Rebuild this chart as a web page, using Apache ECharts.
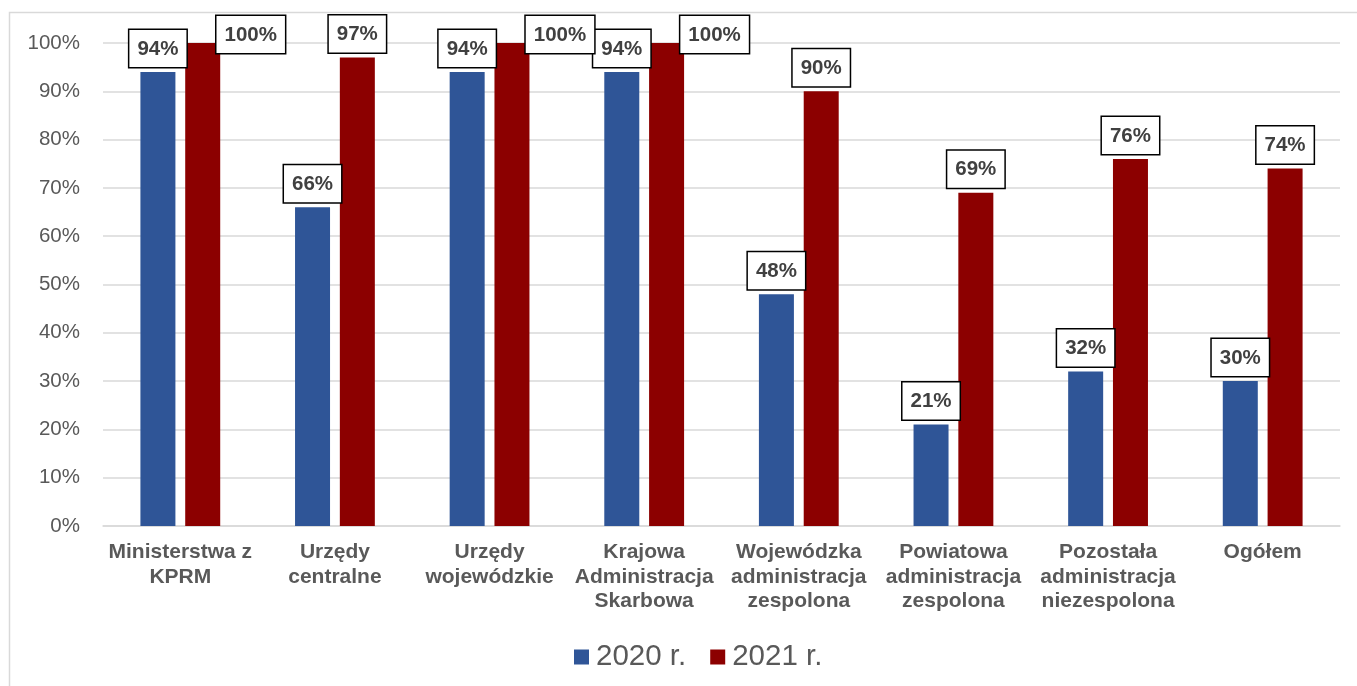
<!DOCTYPE html>
<html>
<head>
<meta charset="utf-8">
<script src="https://cdn.jsdelivr.net/npm/echarts@6/dist/echarts.min.js"></script>
<style>
  html, body { margin: 0; padding: 0; background: #ffffff; }
  #chart { width: 1357px; height: 686px; }
</style>
</head>
<body>
<div id="chart"></div>
<script>
// Categories of public administration units
const categories = [
  'Ministerstwa z\nKPRM',
  'Urzędy\ncentralne',
  'Urzędy\nwojewódzkie',
  'Krajowa\nAdministracja\nSkarbowa',
  'Wojewódzka\nadministracja\nzespolona',
  'Powiatowa\nadministracja\nzespolona',
  'Pozostała\nadministracja\nniezespolona',
  'Ogółem'
];

// Shares (%) per year
const values2020 = [94, 66, 94, 94, 48, 21, 32, 30];
const values2021 = [100, 97, 100, 100, 90, 69, 76, 74];

const seriesNames = ['2020 r.', '2021 r.'];
const yTicks = [0, 10, 20, 30, 40, 50, 60, 70, 80, 90, 100];

const TEXT = '#595959';
const FONT = '"Liberation Sans", Arial, sans-serif';

const boxLabel = {
  show: true,
  position: 'top',
  distance: 5,
  formatter: p => p.value + '%',
  color: '#404040',
  fontFamily: FONT,
  fontWeight: 'bold',
  fontSize: 20.5,
  lineHeight: 22,
  backgroundColor: '#ffffff',
  borderColor: '#000000',
  borderWidth: 1.5,
  padding: [8, 8, 7, 8]
};

// Labels at the very top are nudged right/down so they stay inside the frame
function toItems(values) {
  return values.map(v => v >= 100
    ? { value: v, label: { offset: [48, 15] } }
    : { value: v });
}

const chart = echarts.init(document.getElementById('chart'), null, { renderer: 'canvas' });

chart.setOption({
  animation: false,
  backgroundColor: '#ffffff',
  graphic: [{
    type: 'rect',
    silent: true,
    shape: { x: 9.5, y: 12.5, width: 1400, height: 700 },
    style: { fill: 'none', stroke: '#d9d9d9', lineWidth: 1.5 }
  }],
  grid: { left: 103, right: 17, top: 43, bottom: 160, containLabel: false },
  legend: {
    data: seriesNames,
    left: 569,
    top: 637,
    itemWidth: 15,
    itemHeight: 15,
    itemGap: 24,
    icon: 'rect',
    textStyle: { color: TEXT, fontSize: 29.5, fontFamily: FONT, padding: [0, 0, 0, 2] }
  },
  xAxis: {
    type: 'category',
    data: categories,
    axisLine: { show: true, lineStyle: { color: '#d9d9d9', width: 1.5 } },
    axisTick: { show: false },
    axisLabel: {
      color: TEXT,
      fontFamily: FONT,
      fontWeight: 'bold',
      fontSize: 21,
      lineHeight: 24.5,
      margin: 14,
      interval: 0
    }
  },
  yAxis: {
    type: 'value',
    min: yTicks[0],
    max: yTicks[yTicks.length - 1],
    interval: 10,
    axisLine: { show: false },
    axisTick: { show: false },
    splitLine: { lineStyle: { color: '#d9d9d9', width: 1.5 } },
    axisLabel: {
      color: TEXT,
      fontFamily: FONT,
      fontSize: 20.5,
      margin: 23,
      formatter: v => v + '%'
    }
  },
  series: [
    {
      name: seriesNames[0],
      type: 'bar',
      data: toItems(values2020),
      barWidth: 35,
      barGap: '28%',
      itemStyle: { color: '#2f5597' },
      label: boxLabel
    },
    {
      name: seriesNames[1],
      type: 'bar',
      data: toItems(values2021),
      barWidth: 35,
      barGap: '28%',
      itemStyle: { color: '#8c0000' },
      label: boxLabel
    }
  ]
});
</script>
</body>
</html>
